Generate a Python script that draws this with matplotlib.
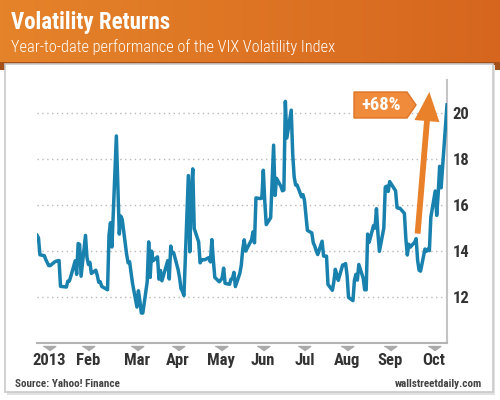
import numpy as np
import pandas as pd
import matplotlib
matplotlib.use('Agg')
import matplotlib.pyplot as plt
import matplotlib.dates as mdates
import matplotlib.transforms as mtransforms
from matplotlib.patches import Rectangle, Polygon, FancyArrowPatch

plt.rcParams['font.family'] = ['Roboto Condensed', 'DejaVu Sans']

# trading days of 2013 up to Oct 8 (NYSE holidays removed)
holidays = ['2013-01-21', '2013-02-18', '2013-03-29', '2013-05-27', '2013-07-04', '2013-09-02']
dates = pd.bdate_range('2013-01-02', '2013-10-08')
dates = dates[~dates.isin(pd.to_datetime(holidays))]

# VIX closes
vix_jan = [14.68, 14.56, 13.83, 13.79, 13.62, 13.49, 13.36, 13.36, 13.52, 13.55, 13.57,
           13.58, 12.46, 12.43, 12.69, 12.69, 12.89, 13.57, 12.98, 14.32, 14.28]
vix_feb = [12.90, 14.67, 13.72, 13.41, 13.50, 13.02, 13.16, 12.94, 12.64, 12.66, 12.46,
           12.31, 14.68, 15.22, 14.17, 18.99, 16.87, 14.73, 15.51]
vix_mar = [15.36, 13.84, 13.48, 13.53, 13.06, 12.59, 11.56, 12.27, 11.83, 11.30, 11.30,
           12.66, 14.39, 12.85, 13.99, 13.57, 13.74, 12.77, 13.15, 12.70]
vix_apr = [13.58, 12.78, 14.21, 13.89, 13.92, 13.19, 12.84, 12.36, 12.24, 12.06, 17.27,
           13.96, 16.51, 17.56, 14.97, 14.39, 13.48, 13.61, 13.62, 13.61, 13.71, 13.52]
vix_may = [14.49, 13.59, 12.85, 12.66, 12.73, 12.83, 13.25, 12.59, 12.55, 12.77, 12.80,
           13.07, 12.45, 13.02, 13.37, 14.07, 14.48, 13.99, 14.48, 14.83, 14.35, 16.30]
vix_jun = [16.27, 16.29, 17.50, 16.14, 15.14, 15.44, 17.07, 18.59, 16.41, 17.15, 16.80,
           16.61, 16.64, 20.49, 18.90, 20.11, 18.21, 17.21, 16.86, 16.86]
vix_jul = [16.35, 16.44, 16.20, 14.89, 14.78, 14.35, 14.21, 14.01, 13.84, 14.42, 13.78,
           13.77, 13.77, 12.54, 12.29, 12.66, 13.20, 12.97, 12.72, 13.39, 13.39, 13.45]
vix_aug = [12.94, 11.98, 11.84, 12.72, 12.98, 12.73, 13.41, 12.81, 12.31, 12.31, 14.73,
           14.37, 15.10, 14.99, 15.83, 14.76, 13.98, 14.99, 16.77, 16.81, 16.58, 17.01]
vix_sep = [16.61, 15.88, 15.85, 15.85, 15.63, 14.53, 13.82, 14.29, 14.16, 14.38, 14.53,
           13.59, 13.16, 13.12, 14.08, 13.98, 14.08, 14.01, 15.46, 16.60]
vix_oct = [15.54, 16.48, 17.67, 16.74, 19.41, 20.34]
vix = (vix_jan + vix_feb + vix_mar + vix_apr + vix_may + vix_jun + vix_jul
       + vix_aug + vix_sep + vix_oct)

tick_dates = pd.to_datetime(['2013-01-10', '2013-02-06', '2013-03-11', '2013-04-08',
                             '2013-05-07', '2013-06-05', '2013-07-03', '2013-08-01',
                             '2013-08-30', '2013-09-29'])
tick_labels = ['2013', 'Feb', 'Mar', 'Apr', 'May', 'Jun', 'Jul', 'Aug', 'Sep', 'Oct']
y_levels = [12, 14, 16, 18, 20]

arrow_from = ('2013-09-18', 14.75)
arrow_to = ('2013-09-26', 20.9)
change_text = '+68%'

W, H = 500, 400
def fx(x):
    return x / W
def fy(y):
    return 1 - y / H

fig = plt.figure(figsize=(5, 4), dpi=100)
fig.patch.set_facecolor('white')

# orange header with a horizontal gradient
hdr = fig.add_axes([0, fy(63), 1, 63 / H], zorder=-3)
c1 = np.array([229, 131, 42]) / 255
c2 = np.array([214, 102, 30]) / 255
t = np.linspace(0, 1, 256)
grad = (c1[None, :] * (1 - t[:, None]) + c2[None, :] * t[:, None])[None, :, :]
hdr.imshow(grad, aspect='auto', extent=[0, 1, 0, 1])
hdr.axis('off')
fig.patches.append(Rectangle((0, fy(70)), 1, 8 / H, transform=fig.transFigure,
                             facecolor='#a4501a', edgecolor='none', zorder=-2.5))

# white card with a soft grey edge
fig.patches.append(Rectangle((fx(7), fy(395)), 488 / W, 330 / H, transform=fig.transFigure,
                             facecolor='#e2e2e2', edgecolor='none', zorder=-2.2))
fig.patches.append(Rectangle((fx(5), fy(392)), 488 / W, 328 / H, transform=fig.transFigure,
                             facecolor='white', edgecolor='#c9c9c9', lw=1.2, zorder=-2))

fig.text(fx(11), fy(23), 'Volatility Returns', color='white', fontsize=16.5,
         fontweight='bold', va='center', ha='left')
fig.text(fx(11), fy(47), 'Year-to-date performance of the VIX Volatility Index',
         color='white', fontsize=11.8, fontweight='light', va='center', ha='left')

ax = fig.add_axes([fx(37), fy(343), 410 / W, 263 / H])
ax.patch.set_alpha(0)
for lv in y_levels:
    ax.axhline(lv, color='#b8b8b8', lw=1, ls=(0, (1, 2.5)), zorder=0)
ax.plot(dates, vix, color='#1881ae', lw=2.5, solid_joinstyle='round', zorder=3)
ax.set_xlim(dates[0], dates[-1])
ax.set_ylim(10, 21.42)

ax.spines['left'].set_visible(False)
ax.spines['top'].set_visible(False)
ax.spines['right'].set_color('#c4c4c4')
ax.spines['right'].set_linewidth(1.5)
ax.spines['bottom'].set_color('#b4b4b4')
ax.spines['bottom'].set_linewidth(1.5)

ax.yaxis.tick_right()
ax.set_yticks(y_levels)
ax.set_yticklabels([str(v) for v in y_levels], fontweight='bold')
ax.tick_params(axis='y', length=0, pad=4, labelsize=12, labelcolor='#333333')
ax.set_xticks(tick_dates)
ax.set_xticklabels(tick_labels, fontweight='bold')
ax.tick_params(axis='x', length=0, pad=7, labelsize=12, labelcolor='#333333')

trans = mtransforms.blended_transform_factory(ax.transData, ax.transAxes)
ax.plot(tick_dates, [-0.012] * len(tick_dates), ls='none',
        marker=[(-5, 0), (5, 0), (0, -3.5)], ms=9, color='#aaaaaa',
        transform=trans, clip_on=False)

# arrow for the rise
x0 = mdates.date2num(pd.Timestamp(arrow_from[0]))
x1 = mdates.date2num(pd.Timestamp(arrow_to[0]))
arr = FancyArrowPatch((x0, arrow_from[1]), (x1, arrow_to[1]),
                      arrowstyle='simple,head_length=2.1,head_width=1.8,tail_width=0.42',
                      mutation_scale=10, shrinkA=0, shrinkB=0,
                      facecolor='#e9802a', edgecolor='none', zorder=4, clip_on=False)
ax.add_patch(arr)

# +68% tag
tag = Polygon([(fx(354), fy(92)), (fx(407), fy(92)), (fx(416), fy(105)),
               (fx(407), fy(118)), (fx(354), fy(118))], closed=True,
              transform=fig.transFigure, facecolor='#f08b3b', edgecolor='#dd7426',
              lw=1, zorder=5)
fig.patches.append(tag)
fig.text(fx(381), fy(105), change_text, color='white', fontsize=13.5, fontweight='bold',
         ha='center', va='center', zorder=6)

fig.text(fx(15), fy(384), 'Source: Yahoo! Finance', color='#444444', fontsize=8,
         fontweight='bold', ha='left', va='center')
fig.text(fx(482), fy(384), 'wallstreetdaily.com', color='#444444', fontsize=8,
         fontweight='bold', ha='right', va='center')

plt.savefig('out.png', dpi=100)
